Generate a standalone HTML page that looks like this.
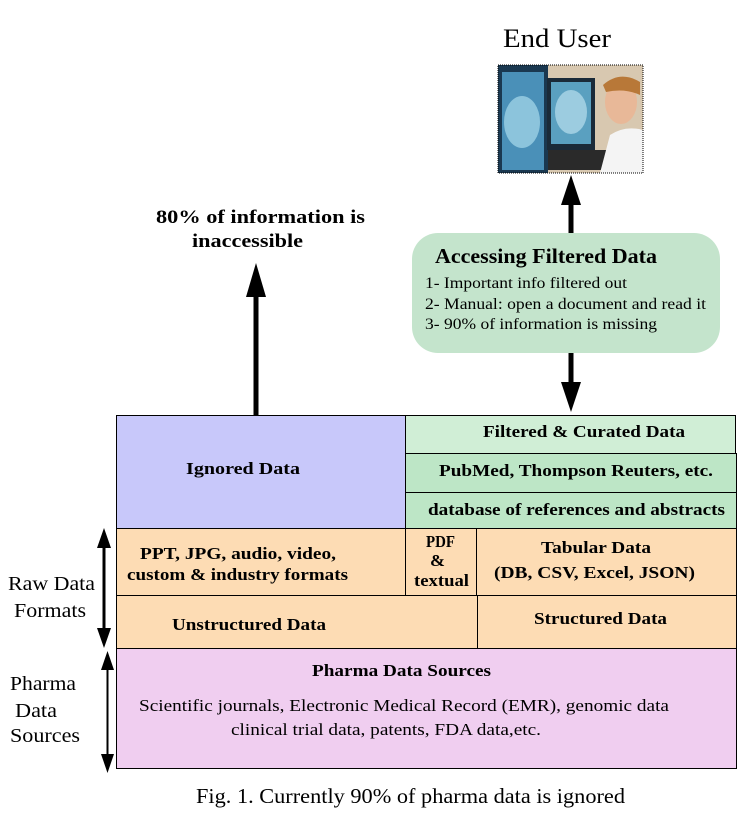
<!DOCTYPE html>
<html><head><meta charset="utf-8"><style>
html,body{margin:0;padding:0;background:#fff;}
svg{display:block;}
text{font-family:"Liberation Serif",serif;fill:#000;}
.b{font-weight:bold;font-size:17px;}
</style></head><body>
<svg width="741" height="820" viewBox="0 0 741 820" xmlns="http://www.w3.org/2000/svg">
<text x="503" y="47" font-size="26" textLength="108" lengthAdjust="spacingAndGlyphs">End User</text>
<g>
<rect x="498" y="65" width="145" height="108" fill="#d8c8b0"/>
<rect x="498" y="65" width="50" height="108" fill="#1a3850"/>
<rect x="502" y="72" width="42" height="98" fill="#4a90b8"/>
<ellipse cx="522" cy="122" rx="18" ry="26" fill="#8cc4dc"/>
<rect x="547" y="78" width="48" height="72" fill="#1a2a38"/>
<rect x="551" y="82" width="40" height="62" fill="#5aa0c0"/>
<ellipse cx="571" cy="112" rx="16" ry="22" fill="#9ccce0"/>
<rect x="548" y="150" width="60" height="20" fill="#2a2a2a"/>
<ellipse cx="621" cy="102" rx="16" ry="22" fill="#e8b898"/>
<path d="M603 85 Q620 70 640 82 L640 95 Q625 88 606 92Z" fill="#b87838"/>
<path d="M600 173 L610 135 Q625 125 643 130 L643 173Z" fill="#f4f4f4"/>
<rect x="498" y="65" width="145" height="108" fill="none" stroke="#000" stroke-dasharray="1,1" stroke-width="1"/>
</g>
<rect x="568.5" y="203" width="5" height="31" fill="#000"/>
<polygon points="571,175 561,205 581,205" fill="#000"/>
<rect x="568.5" y="352" width="5" height="32" fill="#000"/>
<polygon points="571,412 561,382 581,382" fill="#000"/>
<rect x="412" y="233" width="308" height="120" rx="26" fill="#c4e4cc"/>
<text x="435" y="263" font-size="21" font-weight="bold" textLength="222" lengthAdjust="spacingAndGlyphs">Accessing Filtered Data</text>
<text x="425" y="288" font-size="16" textLength="202" lengthAdjust="spacingAndGlyphs">1- Important info filtered out</text>
<text x="425" y="309" font-size="16" textLength="281" lengthAdjust="spacingAndGlyphs">2- Manual: open a document and read it</text>
<text x="425" y="329" font-size="16" textLength="232" lengthAdjust="spacingAndGlyphs">3- 90% of information is missing</text>
<text x="156" y="223" font-size="19" font-weight="bold" textLength="209" lengthAdjust="spacingAndGlyphs">80% of information is</text>
<text x="192" y="247" font-size="19" font-weight="bold" textLength="111" lengthAdjust="spacingAndGlyphs">inaccessible</text>
<rect x="253.5" y="295" width="5" height="121" fill="#000"/>
<polygon points="256,263 246,297 266,297" fill="#000"/>
<g stroke="#000" stroke-width="1">
<rect x="116.5" y="415.5" width="289" height="113" fill="#c8c8fa"/>
<rect x="405.5" y="415.5" width="330" height="38" fill="#d0eed6"/>
<rect x="405.5" y="453.5" width="331" height="39" fill="#bde6c6"/>
<rect x="405.5" y="492.5" width="331" height="36" fill="#bde6c6"/>
<rect x="116.5" y="528.5" width="289" height="67" fill="#fddcb4"/>
<rect x="405.5" y="528.5" width="71" height="67" fill="#fddcb4"/>
<rect x="476.5" y="528.5" width="260" height="67" fill="#fddcb4"/>
<rect x="116.5" y="595.5" width="361" height="53" fill="#fddcb4"/>
<rect x="477.5" y="595.5" width="259" height="53" fill="#fddcb4"/>
<rect x="116.5" y="648.5" width="620" height="120" fill="#f0cef0"/>
</g>
<text class="b" x="186" y="474" textLength="114" lengthAdjust="spacingAndGlyphs">Ignored  Data</text>
<text class="b" x="483" y="437" textLength="202" lengthAdjust="spacingAndGlyphs">Filtered &amp; Curated Data</text>
<text class="b" x="439" y="476" textLength="274" lengthAdjust="spacingAndGlyphs">PubMed, Thompson Reuters, etc.</text>
<text class="b" x="428" y="515" textLength="297" lengthAdjust="spacingAndGlyphs">database of references and abstracts</text>
<text class="b" x="140" y="559" textLength="196" lengthAdjust="spacingAndGlyphs">PPT, JPG, audio, video,</text>
<text class="b" x="127" y="580" textLength="221" lengthAdjust="spacingAndGlyphs">custom &amp; industry formats</text>
<text class="b" x="426" y="547" textLength="29" lengthAdjust="spacingAndGlyphs">PDF</text>
<text class="b" x="430" y="566" textLength="15" lengthAdjust="spacingAndGlyphs">&amp;</text>
<text class="b" x="414" y="586" textLength="55" lengthAdjust="spacingAndGlyphs">textual</text>
<text class="b" x="541" y="553" textLength="110" lengthAdjust="spacingAndGlyphs">Tabular Data</text>
<text class="b" x="494" y="578" textLength="201" lengthAdjust="spacingAndGlyphs">(DB, CSV, Excel, JSON)</text>
<text class="b" x="172" y="630" textLength="154" lengthAdjust="spacingAndGlyphs">Unstructured  Data</text>
<text class="b" x="534" y="624" textLength="133" lengthAdjust="spacingAndGlyphs">Structured  Data</text>
<text class="b" x="312" y="676" textLength="179" lengthAdjust="spacingAndGlyphs">Pharma Data Sources</text>
<text x="139" y="711" font-size="17" textLength="530" lengthAdjust="spacingAndGlyphs">Scientific journals, Electronic Medical Record (EMR), genomic data</text>
<text x="231" y="735" font-size="17" textLength="310" lengthAdjust="spacingAndGlyphs">clinical trial data, patents, FDA data,etc.</text>
<text x="8" y="590" font-size="20" textLength="87" lengthAdjust="spacingAndGlyphs">Raw Data</text>
<text x="14" y="617" font-size="20" textLength="72" lengthAdjust="spacingAndGlyphs">Formats</text>
<text x="10" y="690" font-size="20" textLength="66" lengthAdjust="spacingAndGlyphs">Pharma</text>
<text x="15" y="717" font-size="20" textLength="42" lengthAdjust="spacingAndGlyphs">Data</text>
<text x="10" y="742" font-size="20" textLength="70" lengthAdjust="spacingAndGlyphs">Sources</text>
<rect x="102.5" y="545" width="3" height="87" fill="#000"/>
<polygon points="104,528 97,548 111,548" fill="#000"/>
<polygon points="104,648 97,628 111,628" fill="#000"/>
<rect x="106.5" y="665" width="2" height="92" fill="#000"/>
<polygon points="107.5,651 101,670 114,670" fill="#000"/>
<polygon points="107.5,773 101,754 114,754" fill="#000"/>
<text x="196" y="803" font-size="21" textLength="429" lengthAdjust="spacingAndGlyphs">Fig. 1. Currently 90% of pharma data is ignored</text>
</svg>
</body></html>
